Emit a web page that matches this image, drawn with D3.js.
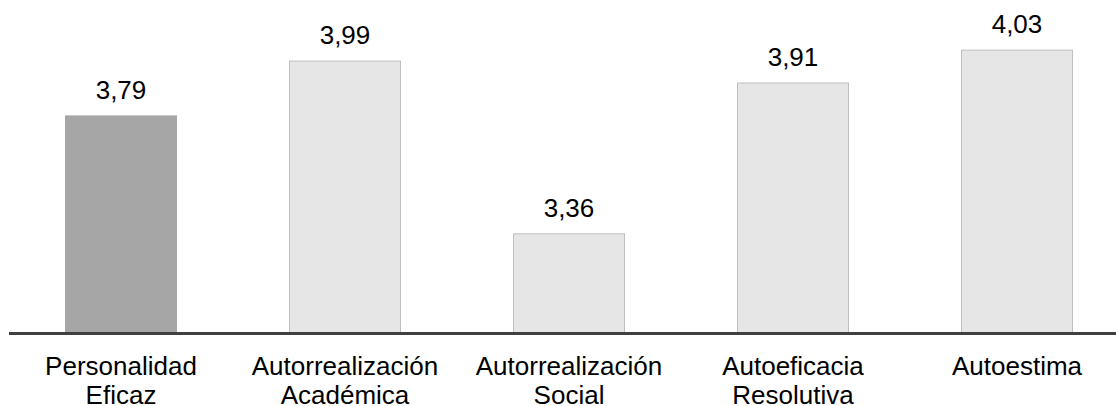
<!DOCTYPE html>
<html>
<head>
<meta charset="utf-8">
<script src="https://cdn.jsdelivr.net/npm/d3@7"></script>
<style>
  body { margin: 0; background: #fff; }
  text { font-family: "Liberation Sans", Arial, sans-serif; }
</style>
</head>
<body>
<div id="chart"></div>
<script>
// Data
var categories = ["Personalidad Eficaz", "Autorrealización Académica", "Autorrealización Social", "Autoeficacia Resolutiva", "Autoestima"];
var labelLines = [["Personalidad", "Eficaz"], ["Autorrealización", "Académica"], ["Autorrealización", "Social"], ["Autoeficacia", "Resolutiva"], ["Autoestima"]];
var values = [3.79, 3.99, 3.36, 3.91, 4.03];
var highlight = [true, false, false, false, false];

var svgWidth = 1116;
var svgHeight = 406;
var baseY = 332;

var svg = d3.select("#chart")
  .append("svg")
  .attr("width", svgWidth)
  .attr("height", svgHeight);

// Scales
var xScale = d3.scaleBand()
  .domain(categories)
  .range([9, 1129])
  .paddingInner(0.5)
  .paddingOuter(0.25);

var yScale = d3.scaleLinear()
  .domain([3, 4.2])
  .range([baseY, 3]);

var fmt = function(v) { return d3.format(".2f")(v).replace(".", ","); };

// Bars
svg.append("g")
  .selectAll("rect")
  .data(values)
  .enter()
  .append("rect")
  .attr("x", (d, i) => xScale(categories[i]) + 0.5)
  .attr("y", d => yScale(d) + 0.5)
  .attr("width", xScale.bandwidth() - 1)
  .attr("height", d => baseY - yScale(d))
  .attr("fill", (d, i) => highlight[i] ? "#a6a6a6" : "#e6e6e6")
  .attr("stroke", (d, i) => highlight[i] ? "#a6a6a6" : "#bfbfbf")
  .attr("stroke-width", 1);

// Value labels
svg.append("g")
  .selectAll("text")
  .data(values)
  .enter()
  .append("text")
  .attr("x", (d, i) => xScale(categories[i]) + xScale.bandwidth() / 2)
  .attr("y", d => yScale(d) - 16.5)
  .attr("text-anchor", "middle")
  .attr("font-size", "26px")
  .attr("fill", "#000")
  .text(d => fmt(d));

// Baseline
svg.append("line")
  .attr("x1", 9)
  .attr("x2", svgWidth)
  .attr("y1", baseY + 1.5)
  .attr("y2", baseY + 1.5)
  .attr("stroke", "#404040")
  .attr("stroke-width", 3);

// Category labels
var catGroup = svg.append("g")
  .selectAll("text")
  .data(labelLines)
  .enter()
  .append("text")
  .attr("text-anchor", "middle")
  .attr("font-size", "26px")
  .attr("fill", "#000")
  .attr("transform", (d, i) => `translate(${xScale(categories[i]) + xScale.bandwidth() / 2}, 374.5)`);

catGroup.selectAll("tspan")
  .data(d => d)
  .enter()
  .append("tspan")
  .attr("x", 0)
  .attr("y", (d, j) => j * 29.5)
  .text(d => d);
</script>
</body>
</html>
